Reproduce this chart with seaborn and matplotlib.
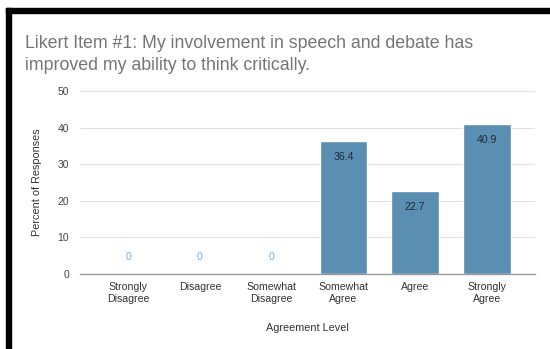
import matplotlib
matplotlib.use("Agg")
import matplotlib.pyplot as plt
from matplotlib.patches import Rectangle
import seaborn as sns
import pandas as pd

categories = ["Strongly\nDisagree", "Disagree", "Somewhat\nDisagree",
              "Somewhat\nAgree", "Agree", "Strongly\nAgree"]
percent = [0, 0, 0, 36.4, 22.7, 40.9]
yticks = [0, 10, 20, 30, 40, 50]

df = pd.DataFrame({"level": categories, "pct": percent})

sns.set_theme(style="white")
plt.rcParams["font.family"] = ["Liberation Sans", "DejaVu Sans"]

fig = plt.figure(figsize=(5.5, 3.49), dpi=100)
ax = fig.add_axes([80 / 550, 1 - 274 / 349, 455 / 550, 183 / 349])

bar_color = "#5b8fb1"
sns.barplot(data=df, x="level", y="pct", color=bar_color, saturation=1,
            width=0.66, ax=ax, zorder=3)

ax.set_ylim(0, 50)
ax.set_xlim(-0.67, 5.67)
ax.set_yticks(yticks)
ax.set_yticklabels([str(t) for t in yticks], fontsize=7.5, color="#444444")
ax.tick_params(axis="x", labelsize=7.6, labelcolor="#333333", length=0, pad=6)
ax.tick_params(axis="y", length=0, pad=8)
for lbl in ax.get_xticklabels():
    lbl.set_linespacing(1.15)

ax.grid(axis="y", color="#e2e2e2", linewidth=0.8, zorder=0)
for s in ["top", "right", "left"]:
    ax.spines[s].set_visible(False)
ax.spines["bottom"].set_color("#9a9a9a")
ax.spines["bottom"].set_linewidth(1.0)
ax.spines["bottom"].set_zorder(4)

ax.set_xlabel("Agreement Level", fontsize=7.8, color="#333333", labelpad=14)
ax.set_ylabel("Percent of Responses", fontsize=7.8, color="#333333", labelpad=11)

# value labels: inside the bar top, or floating above the baseline for zeros
for i, v in enumerate(percent):
    if v > 0:
        ax.annotate(f"{v:g}", (i, v), xytext=(0, -11.5), textcoords="offset points",
                    ha="center", va="center", fontsize=7.6, color="#1d2a38", zorder=5)
    else:
        ax.annotate(f"{v:g}", (i, v), xytext=(0, 12.5), textcoords="offset points",
                    ha="center", va="center", fontsize=7.6, color="#7fb0cc", zorder=5)

fig.text(25 / 550, 1 - 35 / 349,
         "Likert Item #1: My involvement in speech and debate has\n"
         "improved my ability to think critically.",
         ha="left", va="top", fontsize=12.8, color="#757575", linespacing=1.35)

# dark frame along the top and left edges
fig.patches.append(Rectangle((6 / 550, 0), 5 / 550, 1 - 8 / 349,
                             transform=fig.transFigure, color="black", zorder=10))
fig.patches.append(Rectangle((6 / 550, 1 - 13 / 349), 1 - 6 / 550, 5 / 349,
                             transform=fig.transFigure, color="black", zorder=10))

fig.savefig("out.png", dpi=100)
